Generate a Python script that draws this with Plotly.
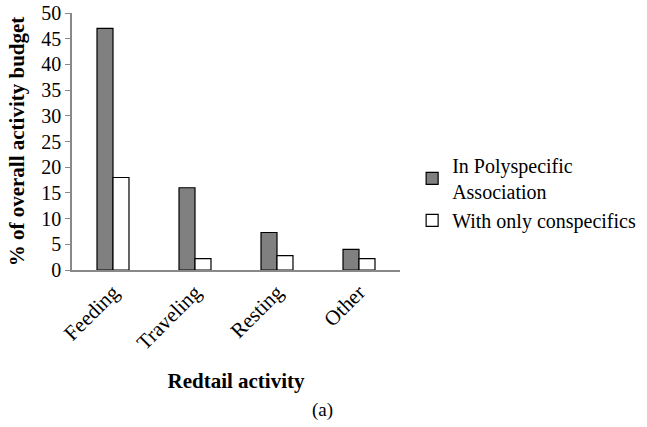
import plotly.graph_objects as go

categories = ["Feeding", "Traveling", "Resting", "Other"]
poly_values = [47, 16, 7.3, 4]
conspec_values = [18, 2.2, 2.8, 2.2]
y_ticks = [0, 5, 10, 15, 20, 25, 30, 35, 40, 45, 50]

font_family = "Liberation Serif, Times New Roman, serif"

fig = go.Figure()
fig.add_trace(go.Bar(
    x=categories, y=poly_values, name="In Polyspecific<br>Association",
    marker=dict(color="#808080", line=dict(color="black", width=1.2)),
))
fig.add_trace(go.Bar(
    x=categories, y=conspec_values, name="With only conspecifics",
    marker=dict(color="white", line=dict(color="black", width=1.2)),
))

fig.update_layout(
    width=647, height=427,
    margin=dict(l=72, r=247, t=13, b=157, autoexpand=False),
    paper_bgcolor="white", plot_bgcolor="white",
    font=dict(family=font_family, size=20, color="black"),
    barmode="group", bargap=0.61, bargroupgap=0,
    showlegend=True,
    legend=dict(xref="container", x=0.637, y=0.30, xanchor="left", yanchor="middle",
                font=dict(size=20), tracegroupgap=18,
                bgcolor="rgba(0,0,0,0)"),
    xaxis=dict(
        tickangle=-45, showline=True, linecolor="#888888", linewidth=1.5,
        ticks="", showgrid=False, automargin=False,
        tickfont=dict(size=21),
        title=dict(text="<b>Redtail activity</b>", font=dict(size=21), standoff=20),
    ),
    yaxis=dict(
        range=[0, 50], tickvals=y_ticks, showline=True, linecolor="#888888",
        linewidth=1.5, ticks="outside", tickcolor="#888888", ticklen=5,
        showgrid=False, zeroline=False, automargin=False,
        tickfont=dict(size=20), ticklabeloverflow="allow",
        title=dict(text="<b>% of overall activity budget</b>", font=dict(size=21), standoff=11),
    ),
    annotations=[dict(text="(a)", xref="paper", yref="paper", x=0.765, y=-0.545,
                      xanchor="center", yanchor="middle", showarrow=False,
                      font=dict(size=19))],
)

fig.write_html("out.html", config={"displayModeBar": False},
               post_script="document.body.style.margin='0px';")
